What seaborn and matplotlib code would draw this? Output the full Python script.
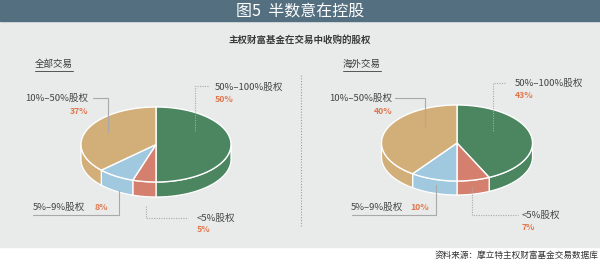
import numpy as np
import matplotlib
matplotlib.use("Agg")
import matplotlib.pyplot as plt
from matplotlib.patches import Polygon, Rectangle
import seaborn as sns

# ---------------- data ----------------
categories = ["50%–100%股权", "<5%股权", "5%–9%股权", "10%–50%股权"]
all_deals = [50, 5, 8, 37]
overseas = [43, 7, 10, 40]
panel_titles = ["全部交易", "海外交易"]
title = "图5  半数意在控股"
subtitle = "主权财富基金在交易中收购的股权"
source = "资料来源：摩立特主权财富基金交易数据库"

sns.set_theme(style="white")
plt.rcParams["font.family"] = ["Noto Sans CJK SC", "DejaVu Sans"]

colors = ["#4b8661", "#d5806f", "#a0c9e0", "#d2ae79"]
BG = "#e9ebeb"
BAND = "#546f80"
PCT = "#e0784e"
TXT = "#454545"
LEAD = "#a9a9a9"

fig = plt.figure(figsize=(6.0, 2.65), dpi=100)
ax = fig.add_axes([0, 0, 1, 1])
ax.set_xlim(0, 600)
ax.set_ylim(265, 0)
ax.axis("off")

# background
ax.add_patch(Rectangle((0, 0), 600, 265, color="white", zorder=0))
ax.add_patch(Rectangle((0, 21), 600, 226, color=BG, zorder=0.1))
ax.add_patch(Rectangle((0, 0), 600, 21, color=BAND, zorder=0.2))
ax.text(300, 11.5, title, color="white", fontsize=11.5, fontweight="medium",
        ha="center", va="center", zorder=5)
ax.text(300, 40, subtitle, color="#3a3a3a", fontsize=6.8, fontweight="bold",
        ha="center", va="center", zorder=5)
ax.text(598, 255, source, color="#333333", fontsize=6.2,
        ha="right", va="center", zorder=5)
# divider
ax.plot([300.5, 300.5], [75, 226], color="#9a9a9a", lw=0.8, ls=(0, (1, 1.5)), zorder=1)


def draw_pie3d(values, cx, cy, rx, ry, depth):
    fr = np.array(values, dtype=float)
    fr = fr / fr.sum()
    bounds = np.concatenate([[0], np.cumsum(fr)]) * 2 * np.pi

    def pts(a0, a1, dy=0.0, n=None):
        n = n or max(int(abs(a1 - a0) / 0.02), 2)
        th = np.linspace(a0, a1, n)
        return np.column_stack([cx + rx * np.sin(th), cy - ry * np.cos(th) + dy])

    # side walls (front half: angles pi/2 .. 3pi/2)
    for i in range(len(values)):
        a0, a1 = bounds[i], bounds[i + 1]
        s0, s1 = max(a0, np.pi / 2), min(a1, 3 * np.pi / 2)
        if s1 > s0:
            top = pts(s0, s1)
            bot = pts(s1, s0, depth)
            ax.add_patch(Polygon(np.vstack([top, bot]), closed=True,
                                 facecolor=colors[i], edgecolor="white",
                                 lw=0.9, zorder=2))
    # top faces
    for i in range(len(values)):
        a0, a1 = bounds[i], bounds[i + 1]
        poly = np.vstack([[cx, cy], pts(a0, a1)])
        ax.add_patch(Polygon(poly, closed=True, facecolor=colors[i],
                             edgecolor="white", lw=1.0, zorder=3))


def leader(points, dotted):
    p = np.array(points)
    ax.plot(p[:, 0], p[:, 1], color=LEAD, lw=0.8,
            ls=(0, (1, 1.2)) if dotted else "-", zorder=4)


def label(x, y, txt, pct, px, py, ha="left"):
    ax.text(x, y, txt, color=TXT, fontsize=6.9, ha=ha, va="center", zorder=5)
    ax.text(px, py, f"{pct}%", color=PCT, fontsize=6.3, fontweight="bold",
            ha=ha, va="center", zorder=5)


def panel_title(x, y, txt, w):
    ax.text(x, y, txt, color="#3a3a3a", fontsize=6.8, ha="left", va="center", zorder=5)
    ax.plot([x, x + w], [y + 6, y + 6], color="#555555", lw=0.7, zorder=5)


# ---------- left panel: all deals ----------
draw_pie3d(all_deals, 156, 144.5, 75, 37.5, 15)
panel_title(35, 64.5, panel_titles[0], 38)
leader([(208, 86), (195, 86), (195, 132)], True)
label(215, 87, categories[0], all_deals[0], 215, 99.5)
leader([(93, 98), (108, 98), (108, 132)], False)
label(88, 98, categories[3], all_deals[3], 88, 112, ha="right")
leader([(33, 215), (119, 215), (119, 190)], False)
label(33, 207, categories[2], all_deals[2], 95, 207)
leader([(146, 206), (146, 218), (188, 218)], True)
label(197, 218, categories[1], all_deals[1], 197, 230)

# ---------- right panel: overseas deals ----------
draw_pie3d(overseas, 457, 143, 75.5, 38, 14)
panel_title(343, 64.5, panel_titles[1], 38)
leader([(505, 83), (493, 83), (493, 131)], True)
label(515, 83, categories[0], overseas[0], 515, 95)
leader([(395, 98), (425, 98), (425, 127)], False)
label(392, 98, categories[3], overseas[3], 392, 112, ha="right")
leader([(352, 215), (436, 215), (436, 185)], False)
label(351, 207, categories[2], overseas[2], 410, 207)
leader([(472, 187), (472, 215), (518, 215)], True)
label(522, 215, categories[1], overseas[1], 522, 227)

fig.savefig("out.png", dpi=100, facecolor="white")
